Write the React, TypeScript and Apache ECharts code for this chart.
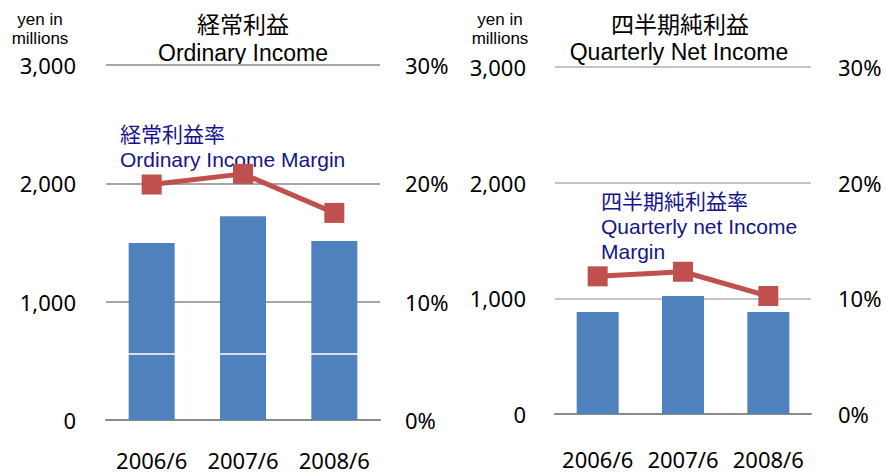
import React, { useEffect, useRef } from "react";
import * as echarts from "echarts";

const categories = ["2006/6", "2007/6", "2008/6"];
const ordinaryIncome = [1495, 1721, 1512];
const ordinaryMargin = [0.199, 0.208, 0.175];
const ordinarySplitLevel = 562;
const netIncome = [882, 1021, 882];
const netMargin = [0.119, 0.123, 0.102];

const leftTitle = ["経常利益", "Ordinary Income"];
const rightTitle = ["四半期純利益", "Quarterly Net Income"];
const leftNote = ["経常利益率", "Ordinary Income Margin"];
const rightNote = ["四半期純利益率", "Quarterly net Income", "Margin"];
const unitLabel = ["yen in", "millions"];

const BAR = "#4F81BD";
const LINE = "#C0504D";
const NOTE = "#15158A";
const NUM_FONT = "'Noto Sans', sans-serif";
const JP_FONT = "'Noto Sans CJK JP', sans-serif";
const LAT_FONT = "'Liberation Sans', Arial, sans-serif";

function valueAxis(grid: number, marginPx: number) {
  return {
    type: "value",
    gridIndex: grid,
    min: 0,
    max: 3000,
    interval: 1000,
    position: "left",
    axisLine: { show: false },
    axisTick: { show: false },
    axisLabel: {
      margin: marginPx,
      fontSize: 22,
      lineHeight: 22,
      fontFamily: NUM_FONT,
      color: "#000",
      formatter: (v: number) => v.toLocaleString("en-US"),
    },
    splitLine: {
      show: true,
      lineStyle: grid === 0 ? { color: "#A6A6A6", width: 2 } : { color: "#C4C4C4", width: 2 },
    },
  };
}

function pctAxis(grid: number, marginPx: number) {
  return {
    type: "value",
    gridIndex: grid,
    min: 0,
    max: 0.3,
    interval: 0.1,
    position: "right",
    axisLine: { show: false },
    axisTick: { show: false },
    splitLine: { show: false },
    axisLabel: {
      margin: marginPx,
      fontSize: 22,
      lineHeight: 22,
      fontFamily: NUM_FONT,
      color: "#000",
      formatter: (v: number) => Math.round(v * 100) + "%",
    },
  };
}

function catAxis(grid: number, marginPx: number) {
  return {
    type: "category",
    gridIndex: grid,
    data: categories,
    axisTick: { show: false },
    axisLine: { show: true, lineStyle: { color: "#8A8A8A", width: 2 } },
    axisLabel: {
      interval: 0,
      hideOverlap: false,
      margin: marginPx,
      fontSize: 22,
      lineHeight: 22,
      fontFamily: NUM_FONT,
      color: "#000",
    },
  };
}

function txt(
  text: string,
  x: number,
  yMid: number,
  size: number,
  color: string,
  font: string,
  align = "left",
  lh?: number
) {
  return {
    type: "text",
    x,
    y: yMid,
    style: {
      text,
      fontSize: size,
      fontFamily: font,
      fill: color,
      textAlign: align,
      textVerticalAlign: "middle",
      lineHeight: lh ?? size,
    },
  };
}

export default function App() {
  const ref = useRef<HTMLDivElement>(null);
  useEffect(() => {
    if (!ref.current) return;
    const chart = echarts.init(ref.current, undefined, { renderer: "svg" });
    chart.setOption({
      animation: false,
      backgroundColor: "#fff",
      grid: [
        { left: 106, top: 65, width: 274, height: 355 },
        { left: 555, top: 67, width: 256, height: 347 },
      ],
      xAxis: [catAxis(0, 29), catAxis(1, 34)],
      yAxis: [valueAxis(0, 30), pctAxis(0, 25), valueAxis(1, 29), pctAxis(1, 27)],
      series: [
        {
          type: "bar",
          xAxisIndex: 0,
          yAxisIndex: 0,
          data: ordinaryIncome,
          barWidth: 46,
          itemStyle: { color: BAR },
          markLine: {
            silent: true,
            symbol: "none",
            label: { show: false },
            lineStyle: { color: "#fff", width: 1.5, type: "solid" },
            data: [{ yAxis: ordinarySplitLevel }],
          },
        },
        {
          type: "line",
          xAxisIndex: 0,
          yAxisIndex: 1,
          data: ordinaryMargin,
          symbol: "rect",
          symbolSize: 20,
          lineStyle: { color: LINE, width: 5 },
          itemStyle: { color: LINE },
          z: 5,
        },
        {
          type: "bar",
          xAxisIndex: 1,
          yAxisIndex: 2,
          data: netIncome,
          barWidth: 42,
          itemStyle: { color: BAR },
        },
        {
          type: "line",
          xAxisIndex: 1,
          yAxisIndex: 3,
          data: netMargin,
          symbol: "rect",
          symbolSize: 20,
          lineStyle: { color: LINE, width: 5 },
          itemStyle: { color: LINE },
          z: 5,
        },
      ],
      graphic: [
        txt(unitLabel.join("\n"), 40, 29, 17, "#000", LAT_FONT, "center", 19),
        txt(unitLabel.join("\n"), 500, 29, 17, "#000", LAT_FONT, "center", 19),
        txt(leftTitle[0], 243, 22.5, 23, "#000", JP_FONT, "center"),
        txt(leftTitle[1], 243, 53, 23, "#000", LAT_FONT, "center"),
        txt(rightTitle[0], 680, 22.5, 23, "#000", JP_FONT, "center"),
        txt(rightTitle[1], 679, 52, 23, "#000", LAT_FONT, "center"),
        txt(leftNote[0], 120, 133, 21, NOTE, JP_FONT),
        txt(leftNote[1], 120, 159.5, 21, NOTE, LAT_FONT),
        txt(rightNote[0], 601, 200, 21, NOTE, JP_FONT),
        txt(rightNote[1], 601, 226, 21, NOTE, LAT_FONT),
        txt(rightNote[2], 601, 251, 21, NOTE, LAT_FONT),
      ],
    });
    return () => chart.dispose();
  }, []);
  return (
    <div
      ref={ref}
      style={{ position: "absolute", left: 0, top: 0, width: 886, height: 475 }}
    />
  );
}
